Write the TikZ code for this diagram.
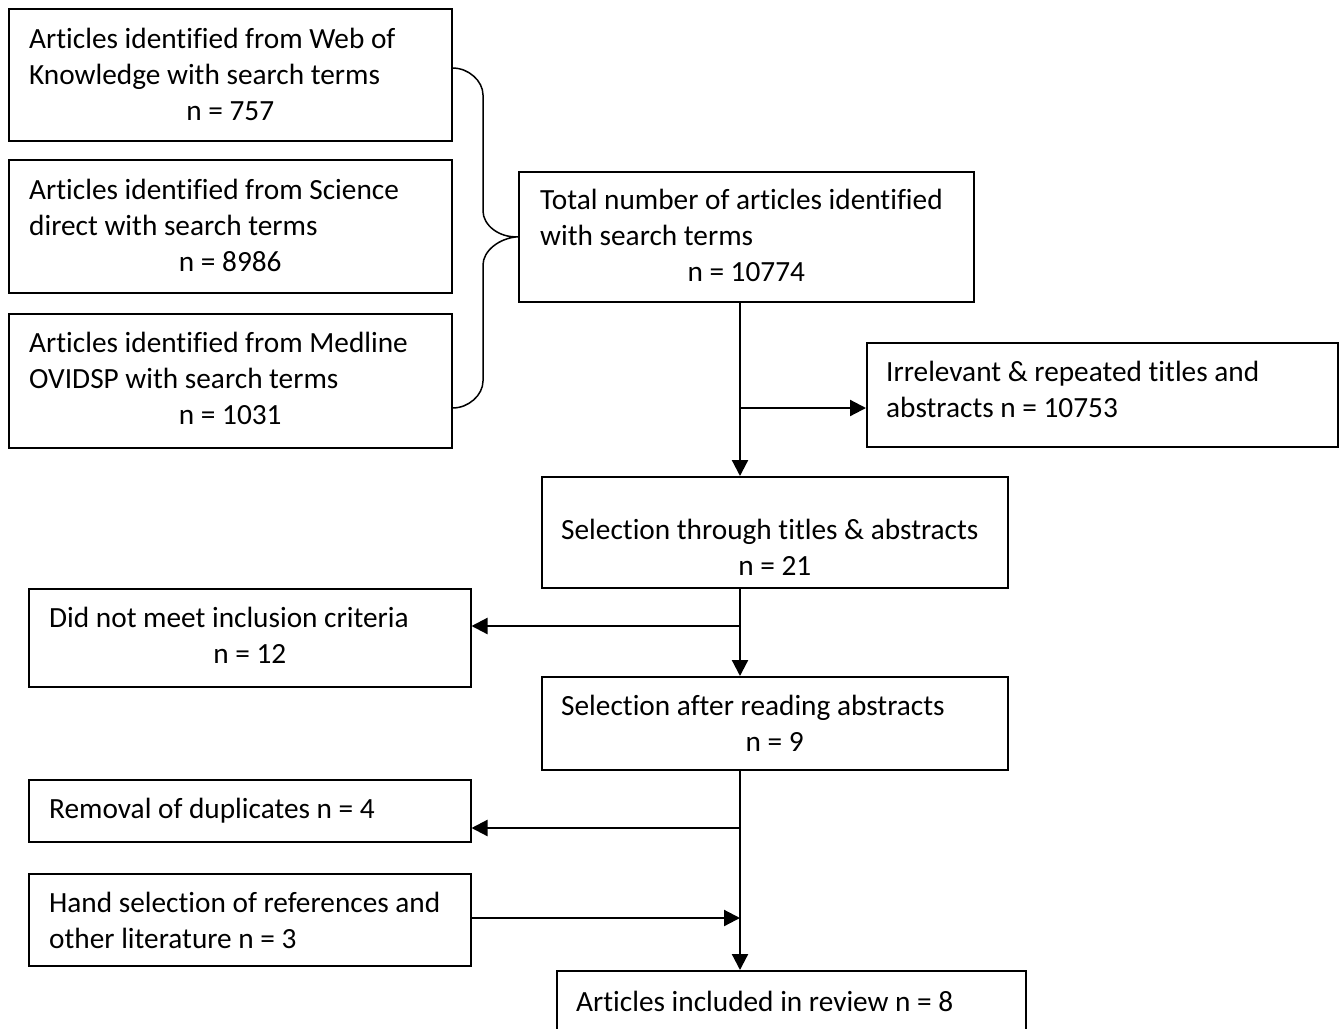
\documentclass[tikz,border=0pt]{standalone}
\usepackage{fontspec}
\setmainfont[Ligatures=NoCommon]{Carlito}
\usetikzlibrary{arrows.meta}
\begin{document}
\begin{tikzpicture}[x=1pt,y=-1pt,
  box/.style={draw, line width=1.5pt, rectangle, inner sep=0pt, anchor=north west},
  txt/.style={inner sep=0pt, anchor=base west, align=left, font=\fontsize{29.3}{36}\selectfont},
  num/.style={inner sep=0pt, anchor=base, font=\fontsize{29.3}{36}\selectfont},
  flow/.style={line width=2.2pt, -{Triangle[length=16pt,width=16pt]}},
  bracket/.style={line width=1.5pt}]
\useasboundingbox (0,0) rectangle (1343,1028);

% search sources
\node[box, minimum width=443pt, minimum height=132pt] (web) at (8,8) {};
\node[txt] (webT) at (29,84) {Articles identified from Web of\\Knowledge with search terms};
\node[num] (webN) at (web |- 0,120) {n = 757};
\node[box, minimum width=443pt, minimum height=133pt] (sd) at (8,159) {};
\node[txt] (sdT) at (29,235) {Articles identified from Science\\direct with search terms};
\node[num] (sdN) at (sd |- 0,271) {n = 8986};
\node[box, minimum width=443pt, minimum height=134pt] (med) at (8,313) {};
\node[txt] (medT) at (29,388) {Articles identified from Medline\\OVIDSP with search terms};
\node[num] (medN) at (med |- 0,424) {n = 1031};

% total
\node[box, minimum width=455pt, minimum height=130pt] (total) at (518,171) {};
\node[txt] (totalT) at (540,245) {Total number of articles identified\\with search terms};
\node[num] (totalN) at (total |- 0,281) {n = 10774};

% bracket joining the three sources
\coordinate (bx) at (483,0);
\draw[bracket] (web.east |- 0,68) .. controls (468.7,68) and (bx |- 0,81) .. (bx |- 0,95)
  -- (bx |- 0,211) .. controls (bx |- 0,225) and (499,238) .. (total.west)
  .. controls (499,238) and (bx |- 0,251) .. (bx |- 0,265)
  -- (bx |- 0,381) .. controls (bx |- 0,395) and (468.7,408) .. (med.east |- 0,408);

% excluded after screening
\node[box, minimum width=471pt, minimum height=104pt] (irr) at (866,342) {};
\node[txt] (irrT) at (886,417) {Irrelevant \& repeated titles and\\abstracts n = 10753};

% selection through titles
\node[box, minimum width=466pt, minimum height=111pt] (sel) at (541,476) {};
\node[txt] (selT) at (561,539) {Selection through titles \& abstracts};
\node[num] (selN) at (sel |- 0,575) {n = 21};

\node[box, minimum width=442pt, minimum height=98pt] (crit) at (28,588) {};
\node[txt] (critT) at (49,627) {Did not meet inclusion criteria};
\node[num] (critN) at (crit |- 0,663) {n = 12};

\node[box, minimum width=466pt, minimum height=93pt] (read) at (541,676) {};
\node[txt] (readT) at (561,715) {Selection after reading abstracts};
\node[num] (readN) at (read |- 0,751) {n = 9};

\node[box, minimum width=442pt, minimum height=62pt] (dup) at (28,779) {};
\node[txt] (dupT) at (49,818) {Removal of duplicates n = 4};

\node[box, minimum width=442pt, minimum height=92pt] (hand) at (28,873) {};
\node[txt] (handT) at (49,948) {Hand selection of references and\\other literature n = 3};

\node[box, minimum width=469pt, minimum height=80pt] (final) at (556,970) {};
\node[txt] (finalT) at (576,1011) {Articles included in review n = 8};

% main trunk and branches
\coordinate (tx) at (740,0);
\draw[flow] (total.south -| tx) -- (sel.north -| tx);
\draw[flow] (tx |- 0,408) -- (irr.west |- 0,408);
\draw[flow] (sel.south -| tx) -- (read.north -| tx);
\draw[flow] (tx |- 0,626) -- (crit.east |- 0,626);
\draw[flow] (read.south -| tx) -- (final.north -| tx);
\draw[flow] (tx |- 0,828) -- (dup.east |- 0,828);
\draw[flow] (hand.east |- 0,918) -- (tx |- 0,918);
\end{tikzpicture}
\end{document}
